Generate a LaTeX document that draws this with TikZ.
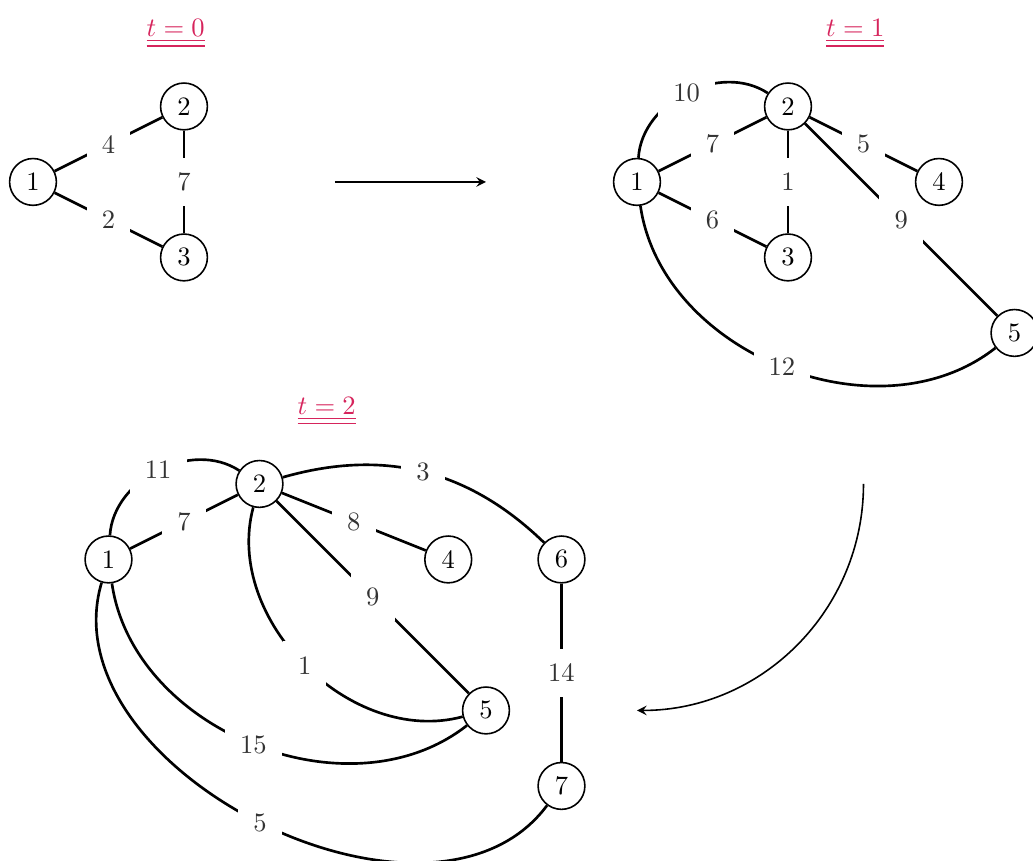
\documentclass[tikz,border=0pt]{standalone}
\usetikzlibrary{arrows}
\definecolor{titlecol}{RGB}{214,36,92}
\pgfdeclarelayer{background}
\pgfsetlayers{background,main}
\begin{document}
\begin{tikzpicture}[
  vert/.style={circle,draw,fill=white,semithick,minimum size=0.62cm,inner sep=0pt},
  lbl/.style={fill=white,inner sep=5.7pt,text=black!80},
  edge/.style={line width=1pt},
  ttl/.style={text=titlecol,anchor=base},
  flow/.style={semithick,-stealth}]
\useasboundingbox (-0.437,-8.993) rectangle (13.245,2.41);
% t = 0
\node[ttl] (ta) at (1.89,1.92) {$\underline{\underline{t=0}}$};
\begin{scope}[shift={(0,0)}]
\node[vert] (a1) at (0,0) {1};
\node[vert] (a2) at (2,1) {2};
\node[vert] (a3) at (2,-1) {3};
\begin{pgfonlayer}{background}
\draw[edge] (a1) -- node[lbl]{4} (a2);
\draw[edge] (a1) -- node[lbl]{2} (a3);
\draw[edge] (a2) -- node[lbl]{7} (a3);
\end{pgfonlayer}
\end{scope}
% arrow
\coordinate (h1) at (4,0);
\coordinate (h2) at (6,0);
\draw[flow] (h1) -- (h2);
% t = 1
\node[ttl] (tb) at (10.89,1.92) {$\underline{\underline{t=1}}$};
\begin{scope}[shift={(8,0)}]
\node[vert] (b1) at (0,0) {1};
\node[vert] (b2) at (2,1) {2};
\node[vert] (b3) at (2,-1) {3};
\node[vert] (b4) at (4,0) {4};
\node[vert] (b5) at (5,-2) {5};
\begin{pgfonlayer}{background}
\draw[edge] (b1) to[bend left=60] node[lbl]{10} (b2);
\draw[edge] (b1) -- node[lbl]{7} (b2);
\draw[edge] (b1) -- node[lbl]{6} (b3);
\draw[edge] (b2) -- node[lbl]{1} (b3);
\draw[edge] (b2) -- node[lbl]{5} (b4);
\draw[edge] (b2) -- node[lbl]{9} (b5);
\draw[edge] (b1) to[bend right=60] node[lbl]{12} (b5);
\end{pgfonlayer}
\end{scope}
% curved arrow
\coordinate (c1) at (11,-4);
\coordinate (c2) at (8,-7);
\draw[flow] (c1) to[out=-90,in=0] (c2);
% t = 2
\node[ttl] (tc) at (3.89,-3.08) {$\underline{\underline{t=2}}$};
\begin{scope}[shift={(1,-5)}]
\node[vert] (d1) at (0,0) {1};
\node[vert] (d2) at (2,1) {2};
\node[vert] (d4) at (4.5,0) {4};
\node[vert] (d6) at (6,0) {6};
\node[vert] (d5) at (5,-2) {5};
\node[vert] (d7) at (6,-3) {7};
\begin{pgfonlayer}{background}
\draw[edge] (d1) to[bend left=60] node[lbl]{11} (d2);
\draw[edge] (d1) -- node[lbl]{7} (d2);
\draw[edge] (d2) -- node[lbl]{8} (d4);
\draw[edge] (d2) -- node[lbl]{9} (d5);
\draw[edge] (d2) to[bend right=60] node[lbl]{1} (d5);
\draw[edge] (d2) to[bend left] node[lbl]{3} (d6);
\draw[edge] (d6) -- node[lbl]{14} (d7);
\draw[edge] (d1) to[bend right=60] node[lbl]{15} (d5);
\draw[edge] (d1) to[bend right=80] node[lbl]{5} (d7);
\end{pgfonlayer}
\end{scope}
\end{tikzpicture}
\end{document}
